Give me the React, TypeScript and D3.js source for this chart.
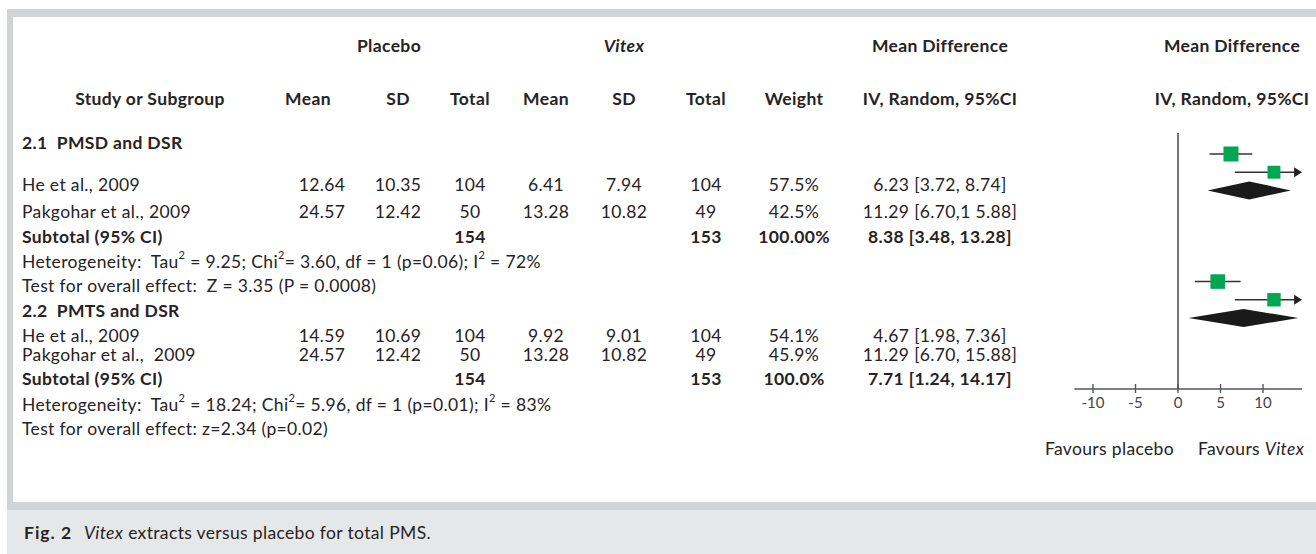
import * as d3 from 'd3';

// ---- table data
const groupTitles = ['2.1  PMSD and DSR', '2.2  PMTS and DSR'];
const studyNames = [
  ['He et al., 2009', 'Pakgohar et al., 2009'],
  ['He et al., 2009', 'Pakgohar et al.,  2009'],
];
const placeboMean = [[12.64, 24.57], [14.59, 24.57]];
const placeboSD = [[10.35, 12.42], [10.69, 12.42]];
const placeboTotal = [[104, 50], [104, 50]];
const vitexMean = [[6.41, 13.28], [9.92, 13.28]];
const vitexSD = [[7.94, 10.82], [9.01, 10.82]];
const vitexTotal = [[104, 49], [104, 49]];
const weights = [[57.5, 42.5], [54.1, 45.9]];
const meanDiff = [[6.23, 11.29], [4.67, 11.29]];
const ciLow = [[3.72, 6.7], [1.98, 6.7]];
const ciHigh = [[8.74, 15.88], [7.36, 15.88]];
const ciLabels = [
  ['6.23 [3.72, 8.74]', '11.29 [6.70,1 5.88]'],
  ['4.67 [1.98, 7.36]', '11.29 [6.70, 15.88]'],
];
const subPlaceboTotal = [154, 154];
const subVitexTotal = [153, 153];
const subWeightLabels = ['100.00%', '100.0%'];
const subMeanDiff = [8.38, 7.71];
const subLow = [3.48, 1.24];
const subHigh = [13.28, 14.17];
const subLabels = ['8.38 [3.48, 13.28]', '7.71 [1.24, 14.17]'];
const hetTau = ['9.25', '18.24'];
const hetChi = ['3.60', '5.96'];
const hetP = ['0.06', '0.01'];
const hetI2 = ['72%', '83%'];
const overallEffect = [
  'Test for overall effect:  Z = 3.35 (P = 0.0008)',
  'Test for overall effect: z=2.34 (p=0.02)',
];
const xTicks = [-10, -5, 0, 5, 10];

// ---- layout
const W = 1316;
const H = 554;
const FONT = "Lato, 'Open Sans', sans-serif";
const INK = '#262324';
const FS = 17.5;
const LS = 0.35;
const col = {
  study: 22, mean1: 322, sd1: 398, total1: 470, mean2: 546, sd2: 624,
  total2: 706, weight: 794, ci: 940, plot: 1232,
};
const rowsY = [
  { title: 142, studies: [184, 211], subtotal: 236, het: 261, test: 285 },
  { title: 310, studies: [335, 354], subtotal: 378, het: 404, test: 428 },
];
const axisY = 389;

const x = d3.scaleLinear().domain([0, 10]).range([1178, 1263]);
const xExtent = [-12.2, 14.6];
const rowY = d3.scaleLinear().domain([0, 9]).range([154, 318]);
const boxSize = d3.scaleSqrt().domain([0, 57.5]).range([0, 15]);

function Sup() {
  return (
    <tspan dy={-7} fontSize={11}>2</tspan>
  );
}

export default function App() {
  const cell = (cx: number, cy: number, t: string, bold = false, anchor = 'middle') => (
    <text x={cx} y={cy} textAnchor={anchor} fontWeight={bold ? 700 : 400}
      dominantBaseline="central" style={{ whiteSpace: 'pre' }}>{t}</text>
  );

  return (
    <div style={{ position: 'absolute', left: 0, top: 0 }}>
      <svg width={W} height={H} fontFamily={FONT} fontSize={FS} letterSpacing={LS} fill={INK}>
        <rect x={0} y={0} width={W} height={H} fill="#fff" />
        {/* frame */}
        <rect x={7} y={9} width={W - 7} height={H - 9} fill="#d1d3d4" />
        <rect x={7} y={510} width={W - 7} height={H - 510} fill="#e6e7e8" />
        <rect x={13} y={17} width={W - 13} height={485} fill="#fff" />

        {/* headers */}
        <g fontWeight={700}>
          {cell(389, 45, 'Placebo', true)}
          <text x={624} y={45} textAnchor="middle" dominantBaseline="central" fontStyle="italic" fontWeight={700}>Vitex</text>
          {cell(col.ci, 45, 'Mean Difference', true)}
          {cell(col.plot, 45, 'Mean Difference', true)}
          {cell(150, 98, 'Study or Subgroup', true)}
          {cell(308, 98, 'Mean', true)}
          {cell(col.sd1, 98, 'SD', true)}
          {cell(col.total1, 98, 'Total', true)}
          {cell(col.mean2, 98, 'Mean', true)}
          {cell(col.sd2, 98, 'SD', true)}
          {cell(col.total2, 98, 'Total', true)}
          {cell(col.weight, 98, 'Weight', true)}
          {cell(col.ci, 98, 'IV, Random, 95%CI', true)}
          {cell(col.plot, 98, 'IV, Random, 95%CI', true)}
        </g>

        {groupTitles.map((title, g) => {
          const r = rowsY[g];
          return (
            <g key={title}>
              {cell(col.study, r.title, title, true, 'start')}
              {studyNames[g].map((name, i) => {
                const y = r.studies[i];
                return (
                  <g key={i}>
                    {cell(col.study, y, name, false, 'start')}
                    {cell(col.mean1, y, placeboMean[g][i].toFixed(2))}
                    {cell(col.sd1, y, placeboSD[g][i].toFixed(2))}
                    {cell(col.total1, y, String(placeboTotal[g][i]))}
                    {cell(col.mean2, y, vitexMean[g][i].toFixed(2))}
                    {cell(col.sd2, y, vitexSD[g][i].toFixed(2))}
                    {cell(col.total2, y, String(vitexTotal[g][i]))}
                    {cell(col.weight, y, `${weights[g][i].toFixed(1)}%`)}
                    {cell(col.ci, y, ciLabels[g][i])}
                  </g>
                );
              })}
              {cell(col.study, r.subtotal, 'Subtotal (95% CI)', true, 'start')}
              {cell(col.total1, r.subtotal, String(subPlaceboTotal[g]), true)}
              {cell(col.total2, r.subtotal, String(subVitexTotal[g]), true)}
              {cell(col.weight, r.subtotal, subWeightLabels[g], true)}
              {cell(col.ci, r.subtotal, subLabels[g], true)}
              <text x={col.study} y={r.het} dominantBaseline="central" style={{ whiteSpace: 'pre' }}>
                {'Heterogeneity:  Tau'}<Sup />
                <tspan dy={7}>{` = ${hetTau[g]}; Chi`}</tspan><Sup />
                <tspan dy={7}>{`= ${hetChi[g]}, df = 1 (p=${hetP[g]}); I`}</tspan><Sup />
                <tspan dy={7}>{` = ${hetI2[g]}`}</tspan>
              </text>
              {cell(col.study, r.test, overallEffect[g], false, 'start')}
            </g>
          );
        })}

        {/* forest plot */}
        <g>
          <line x1={x(0)} x2={x(0)} y1={133} y2={axisY} stroke="#555" strokeWidth={1.6} />
          <line x1={x(xExtent[0])} x2={x(xExtent[1])} y1={axisY} y2={axisY} stroke="#555" strokeWidth={1.6} />
          {xTicks.map((t) => (
            <g key={t}>
              <line x1={x(t)} x2={x(t)} y1={axisY - 5} y2={axisY + 4} stroke="#555" strokeWidth={1.4} />
              <text x={x(t)} y={axisY + 13} textAnchor="middle" dominantBaseline="central" fontSize={15} letterSpacing={0} fill="#444">{t}</text>
            </g>
          ))}

          {meanDiff.map((grp, g) => (
            <g key={g}>
              {grp.map((md, i) => {
                const cy = rowY(g * 7 + i);
                const hi = Math.min(ciHigh[g][i], xExtent[1]);
                const clipped = ciHigh[g][i] > xExtent[1];
                const s = boxSize(weights[g][i]);
                return (
                  <g key={i}>
                    <line x1={x(ciLow[g][i])} x2={x(hi) - (clipped ? 6 : 0)} y1={cy} y2={cy} stroke="#333" strokeWidth={1.5} />
                    {clipped && (
                      <path d={`M${x(hi)},${cy}L${x(hi) - 8},${cy - 5}L${x(hi) - 8},${cy + 5}Z`} fill="#222" />
                    )}
                    <rect x={x(md) - s / 2} y={cy - s / 2} width={s} height={s} fill="#00a651" />
                  </g>
                );
              })}
              {(() => {
                const cy = rowY(g * 7 + 2);
                const d = d3.line()([
                  [x(subLow[g]), cy], [x(subMeanDiff[g]), cy - 9],
                  [x(subHigh[g]), cy], [x(subMeanDiff[g]), cy + 9],
                ]) + 'Z';
                return <path d={d} fill="#1a1a1a" />;
              })()}
            </g>
          ))}

          <text x={1174} y={448} textAnchor="end" dominantBaseline="central">Favours placebo</text>
          <text x={1198} y={448} dominantBaseline="central">Favours <tspan fontStyle="italic">Vitex</tspan></text>
        </g>

        {/* caption */}
        <text y={532} dominantBaseline="central" fontSize={FS} style={{ whiteSpace: 'pre' }}>
          <tspan x={24} fontWeight={700} letterSpacing={1}>Fig. 2</tspan>
          <tspan x={84} fontStyle="italic">Vitex</tspan>
          <tspan> extracts versus placebo for total PMS.</tspan>
        </text>
      </svg>
    </div>
  );
}
